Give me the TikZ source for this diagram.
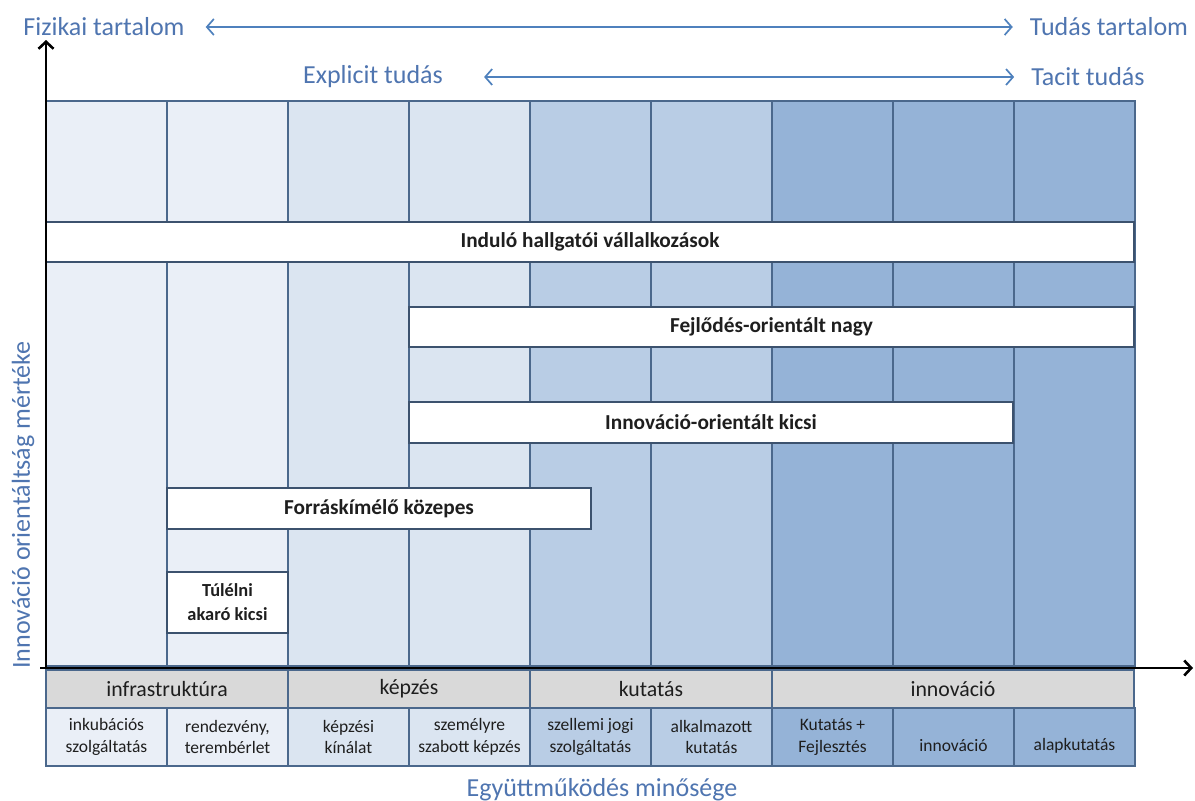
\documentclass[tikz,border=0pt]{standalone}
\usepackage{fontspec}
\setmainfont{Carlito}
\usetikzlibrary{arrows.meta}
\definecolor{c1}{RGB}{234,239,247}
\definecolor{c2}{RGB}{219,229,241}
\definecolor{c3}{RGB}{185,205,229}
\definecolor{c4}{RGB}{149,179,215}
\definecolor{bord}{RGB}{75,104,140}
\definecolor{bord2}{RGB}{60,82,110}
\definecolor{catg}{RGB}{217,217,217}
\definecolor{lbl}{RGB}{79,117,176}
\definecolor{arrc}{RGB}{79,129,189}
\definecolor{txt}{RGB}{30,30,30}
\tikzset{
  colbox/.style={draw=bord, line width=1.3pt, minimum width=121pt, minimum height=565pt, anchor=north west, inner sep=0pt, outer sep=0pt},
  barbox/.style={draw=bord2, line width=1.6pt, fill=white, anchor=north west, inner sep=0pt, outer sep=0pt, font=\fontsize{21.3}{24}\selectfont\bfseries, text=txt},
  catbox/.style={draw=bord, line width=1.3pt, fill=catg, minimum width=242pt, minimum height=38pt, anchor=north west, inner sep=0pt, outer sep=0pt, font=\fontsize{21.8}{24}\selectfont, text=txt},
  subbox/.style={draw=bord, line width=1.3pt, minimum width=121pt, minimum height=58pt, anchor=north west, inner sep=0pt, outer sep=0pt, font=\fontsize{17.5}{21.5}\selectfont, text=txt, align=center},
  axlbl/.style={text=lbl, inner sep=0pt, font=\fontsize{26}{30}\selectfont},
  toparrow/.style={draw=arrc, line width=1.7pt, {Straight Barb[length=7pt,width=16pt]}-{Straight Barb[length=7pt,width=16pt]}},
  axis/.style={draw=black, line width=2.6pt, -{Straight Barb[length=7pt,width=15pt]}}
}
\begin{document}
\begin{tikzpicture}[x=1pt,y=-1pt]
\useasboundingbox (0,0) rectangle (1195,801);
% columns
\foreach \i/\c in {0/c1,1/c1,2/c2,3/c2,4/c3,5/c3,6/c4,7/c4,8/c4}{
  \node[colbox, fill=\c] (col\i) at ({46+121*\i},101) {};
}
% bars
\node[barbox, minimum width=1088pt, minimum height=40pt] (b1) at (46,222) {Induló hallgatói vállalkozások};
\node[barbox, minimum width=725pt, minimum height=40pt] (b2) at (409,307) {Fejlődés-orientált nagy};
\node[barbox, minimum width=604pt, minimum height=41pt] (b3) at (409,402) {Innováció-orientált kicsi};
\node[barbox, minimum width=424pt, minimum height=41pt] (b4) at (167,488) {Forráskímélő közepes};
\node[barbox, minimum width=121pt, minimum height=61pt, align=center, font=\fontsize{18.4}{24}\selectfont\bfseries] (b5) at (167,572) {Túlélni\\akaró kicsi};
% category row
\node[catbox] (k1) at (46,670) {infrastruktúra};
\node[catbox] (k2) at (288,670) {képzés};
\node[catbox] (k3) at (530,670) {kutatás};
\node[catbox, minimum width=362pt] (k4) at (772,670) {innováció};
% sub row
\node[subbox, fill=c1] (s0) at (46,708) {inkubációs\\szolgáltatás};
\node[subbox, fill=c1] (s1) at (167,708) {rendezvény,\\terembérlet};
\node[subbox, fill=c2] (s2) at (288,708) {képzési\\kínálat};
\node[subbox, fill=c2] (s3) at (409,708) {személyre\\szabott képzés};
\node[subbox, fill=c3] (s4) at (530,708) {szellemi jogi\\szolgáltatás};
\node[subbox, fill=c3] (s5) at (651,708) {alkalmazott\\kutatás};
\node[subbox, fill=c4] (s6) at (772,708) {Kutatás +\\Fejlesztés};
\node[subbox, fill=c4] (s7) at (893,708) {\phantom{x}\\innováció};
\node[subbox, fill=c4] (s8) at (1014,708) {\phantom{x}\\alapkutatás};
% axes
\coordinate (orig) at (46,668);
\coordinate (ytip) at (46,40);
\coordinate (xtip) at (1193,668);
\draw[axis] (orig) -- (ytip);
\draw[axis] (40,668) -- (xtip);
% axis labels
\node[axlbl] (fiz) at (104,27) {Fizikai tartalom};
\node[axlbl] (tud) at (1109,27) {Tudás tartalom};
\node[axlbl] (exp) at (373,77) {Explicit tudás};
\node[axlbl] (tac) at (1088,77) {Tacit tudás};
\draw[toparrow, shorten <=21pt, shorten >=17pt] (fiz.east) -- (tud.west);
\draw[toparrow, shorten <=41pt, shorten >=17pt] (exp.east) -- (tac.west);
\node[axlbl, rotate=90] (ylbl) at (23,505) {Innováció orientáltság mértéke};
\node[axlbl] (xlbl) at (602,790) {Együttműködés minősége};
\end{tikzpicture}
\end{document}
